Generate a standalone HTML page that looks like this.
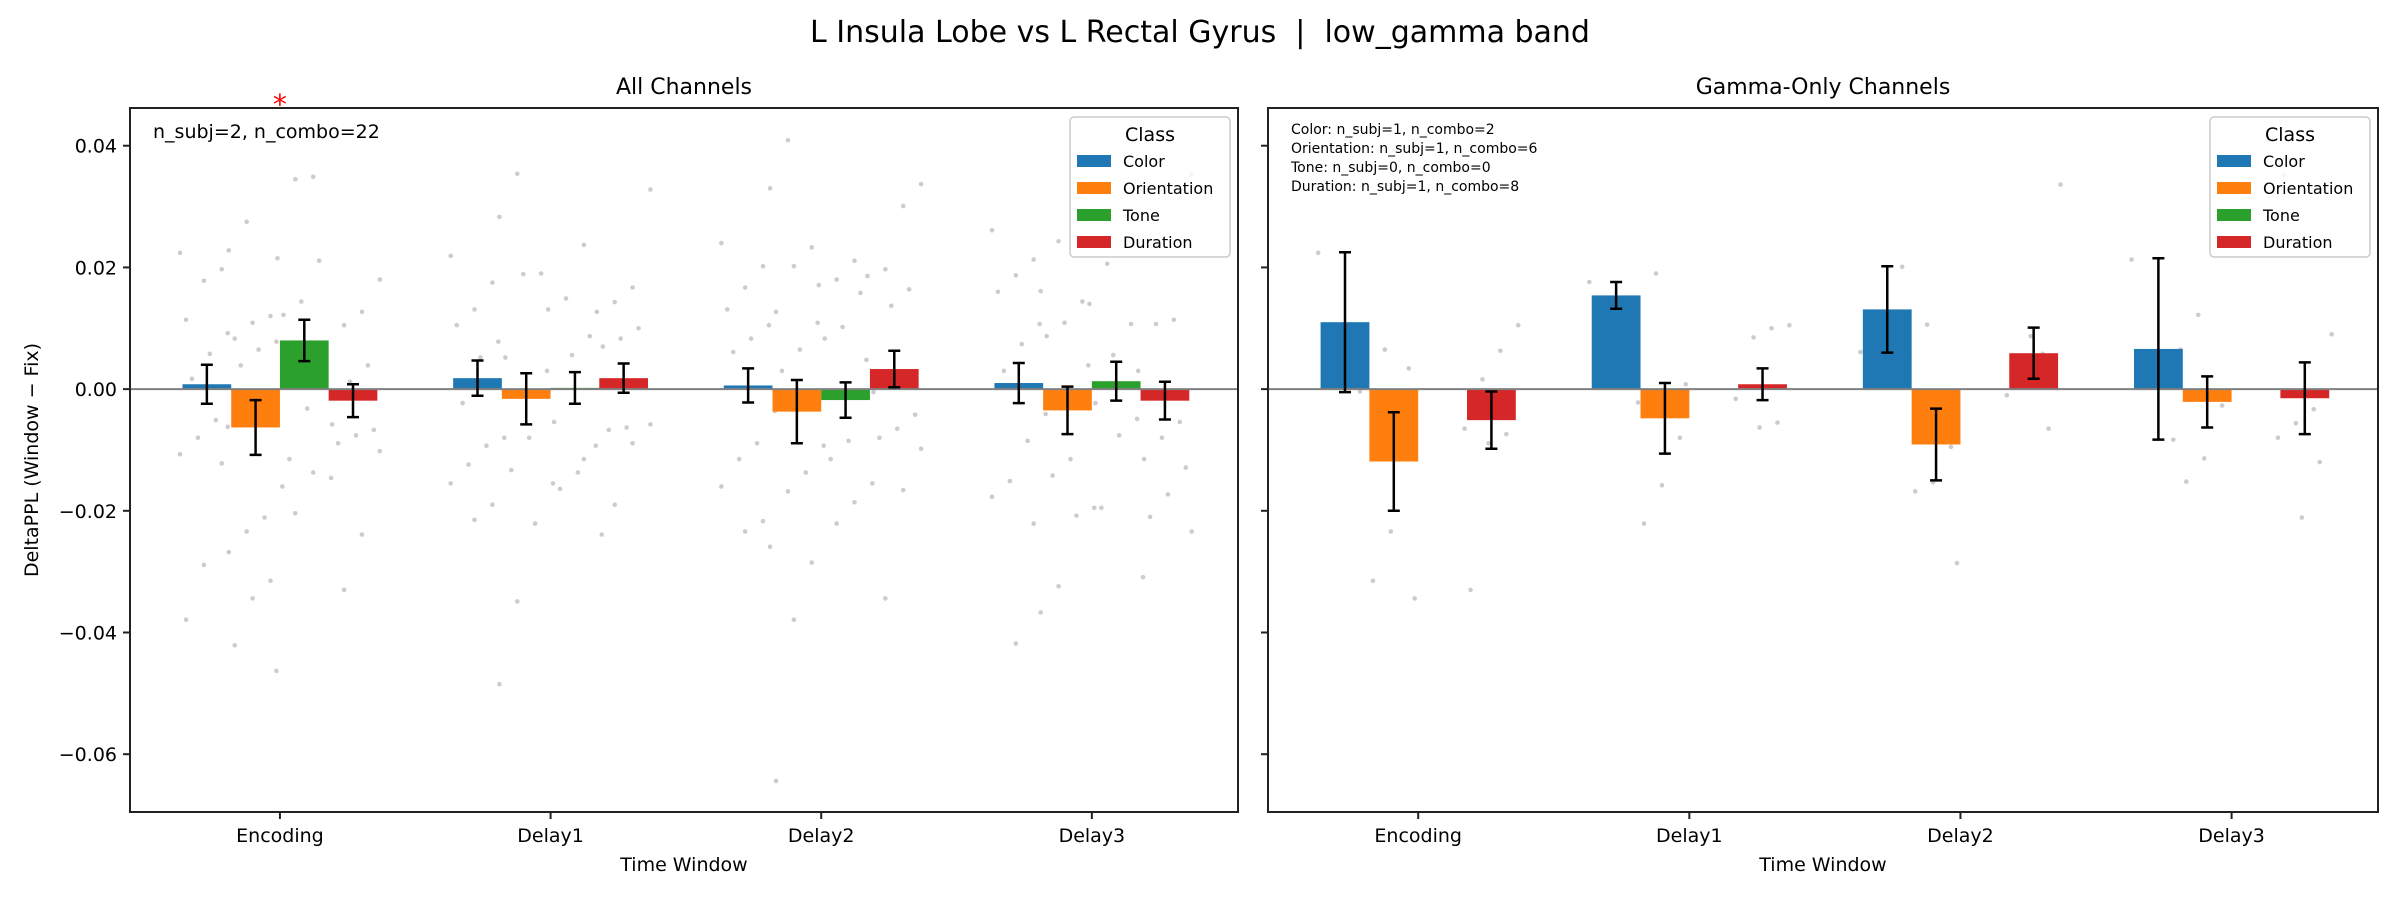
<!DOCTYPE html>
<html><head><meta charset="utf-8">
<style>
html,body{margin:0;padding:0;background:#fff;}
svg{display:block;font-family:"DejaVu Sans","Liberation Sans",sans-serif;}
</style></head>
<body>
<svg id="fig" width="2400" height="900" viewBox="0 0 2400 900" xmlns="http://www.w3.org/2000/svg">
<rect width="2400" height="900" fill="#fff"/>
<text x="1200" y="42" font-size="30" text-anchor="middle" style="white-space:pre">L Insula Lobe vs L Rectal Gyrus&#160;&#160;|&#160;&#160;low_gamma band</text>
<text transform="translate(38,460) rotate(-90)" font-size="19" text-anchor="middle">DeltaPPL (Window − Fix)</text>
</svg>
<script>
const categories=['Encoding','Delay1','Delay2','Delay3'];
const classes=['Color','Orientation','Tone','Duration'];
const classColors=['#1f77b4','#ff7f0e','#2ca02c','#d62728'];
const yTicks=[0.04,0.02,0.00,-0.02,-0.04,-0.06];
const yTickLabels=['0.04','0.02','0.00','−0.02','−0.04','−0.06'];

const allMeans=[[0.0008,-0.0063,0.0080,-0.0019],[0.0018,-0.0016,0.0002,0.0018],[0.0006,-0.0037,-0.0018,0.0033],[0.0010,-0.0035,0.0013,-0.0019]];
const allSem=[[0.0032,0.0045,0.0034,0.0027],[0.0029,0.0042,0.0026,0.0024],[0.0028,0.0052,0.0029,0.0030],[0.0033,0.0039,0.0032,0.0031]];
const allPoints=[
 [[.0224,.0197,.0178,.0114,.0092,.0058,.0017,-.0023,-.0051,-.008,-.0107,-.0122,-.0289,-.0379,-.0062],
  [.0275,.0228,.012,.0109,.0083,.0078,.0065,.0039,-.016,-.0211,-.0234,-.0268,-.0315,-.0344,-.0421,-.0463],
  [.0349,.0345,.0215,.0211,.0144,.0122,.0065,-.0032,-.0115,-.0146,-.0137,-.0204],
  [.018,.0127,.0105,.0061,.0039,.0012,-.0058,-.0067,-.0076,-.0089,-.0102,-.0239,-.033]],
 [[.0219,.0175,.0131,.0105,.0078,.0052,-.0023,-.008,-.0093,-.0124,-.0155,-.019,-.0215],
  [.0354,.0283,.019,.0189,.0052,.003,-.008,-.0133,-.0155,-.0221,-.0349,-.0485],
  [.0237,.0149,.0131,.0087,.0056,-.0054,-.0093,-.0137,-.0164,-.0239,-.0115],
  [.0328,.0167,.0143,.0127,.01,.0083,.007,.0012,-.0063,-.0067,-.0058,-.0089,-.019]],
 [[.024,.0202,.0167,.0131,.0105,.0083,.0061,-.0036,-.0089,-.0115,-.016,-.0217,-.0234],
  [.0409,.033,.0233,.0202,.0127,.0109,.0065,.003,-.0093,-.0137,-.0168,-.0259,-.0285,-.0379,-.0644],
  [.0211,.018,.0171,.0158,.0102,.0083,.0048,-.0085,-.0115,-.0155,-.0186,-.0221],
  [.0337,.0301,.0197,.0186,.0164,.0137,-.0005,-.0042,-.0065,-.008,-.0098,-.0166,-.0344]],
 [[.0261,.0213,.0187,.016,.0107,.0074,.003,-.0041,-.0085,-.0151,-.0177,-.0221,-.0418],
  [.0243,.0161,.0144,.0109,.0087,.0039,-.0115,-.0142,-.0195,-.0208,-.0324,-.0367],
  [.0285,.0206,.014,.0107,.0056,-.0023,-.0049,-.0076,-.0195,-.0309],
  [.0352,.0114,.0107,.003,-.0054,-.008,-.0115,-.0129,-.0173,-.021,-.0234]]
];
const gamMeans=[[0.0110,-0.0119,null,-0.0051],[0.0154,-0.0048,null,0.0008],[0.0131,-0.0091,null,0.0059],[0.0066,-0.0021,null,-0.0015]];
const gamSem=[[0.0115,0.0081,null,0.0047],[0.0022,0.0058,null,0.0026],[0.0071,0.0059,null,0.0042],[0.0149,0.0042,null,0.0059]];
const gamPoints=[
 [[.0224,-.0004],[.0065,.0076,.0034,-.0234,-.0315,-.0344],[],[.0105,.0063,.0016,-.0065,-.0074,-.0089,-.033]],
 [[.0176,.0131],[.019,-.0022,-.008,-.0158,-.0221,.0008],[],[.0105,.01,.0085,-.0016,-.0055,-.0063]],
 [[.0061,.0201],[.0106,.0049,-.0095,-.0153,-.0168,-.0286],[],[.0336,.0058,.0008,-.001,-.0065,.0087]],
 [[.0213,-.0083],[.0122,.0065,-.0027,-.0114,-.0152],[],[.009,-.0033,-.0056,-.008,-.012,-.0211,.0352]]
];
const allStars=[[0,0.0465]];
</script>
<script>
const NS='http://www.w3.org/2000/svg';
const svg=document.getElementById('fig');
function mk(tag,attrs,parent,text){const e=document.createElementNS(NS,tag);for(const k in attrs)e.setAttribute(k,attrs[k]);if(text!==undefined)e.textContent=text;(parent||svg).appendChild(e);return e;}
const TOP=108,BOT=812;
const yMin=-0.0695,yMax=0.0462;
function yS(v){return TOP+(yMax-v)/(yMax-yMin)*(BOT-TOP);}
const BW=0.18, xMin=-0.554, xMax=3.54;

function panel(L,R,title,means,sems,points,showYLabels,name){
  const g=mk('g',{});
  
  
  const xS=v=>L+(v-xMin)/(xMax-xMin)*(R-L);
  const t=mk('text',{x:(L+R)/2,y:94,'font-size':22,'text-anchor':'middle'},g,title);
  
  
  points.forEach((grp,ci)=>grp.forEach((arr,k)=>arr.forEach((v,i)=>{
    const off=(((i*7+k*3)%10)/9-0.5)*BW*1.1;
    const c=mk('circle',{cx:xS(ci+(k-1.5)*BW+off),cy:yS(v),r:2.3,fill:'#aaaaaa','fill-opacity':0.6},g);
    
    
  })));
  means.forEach((row,ci)=>row.forEach((m,k)=>{
    if(m===null)return;
    const x0=xS(ci+(k-1.5)*BW-BW/2), x1=xS(ci+(k-1.5)*BW+BW/2);
    const b=mk('rect',{x:x0,y:Math.min(yS(m),yS(0)),width:x1-x0,height:Math.abs(yS(m)-yS(0)),fill:classColors[k]},g);
    
    
  }));
  const z=mk('line',{x1:L,x2:R,y1:yS(0),y2:yS(0),stroke:'#808080','stroke-width':2},g);
  
  
  means.forEach((row,ci)=>row.forEach((m,k)=>{
    if(m===null)return;
    const s=sems[ci][k], cx=xS(ci+(k-1.5)*BW);
    const e=mk('path',{d:`M${cx},${yS(m+s)}V${yS(m-s)}M${cx-6},${yS(m+s)}H${cx+6}M${cx-6},${yS(m-s)}H${cx+6}`,stroke:'#000','stroke-width':2.5,fill:'none'},g);
    
    
  }));
  const f=mk('rect',{x:L,y:TOP,width:R-L,height:BOT-TOP,fill:'none',stroke:'#222','stroke-width':2},g);
  
  
  yTicks.forEach((v,i)=>{
    mk('line',{x1:L-7,x2:L,y1:yS(v),y2:yS(v),stroke:'#222','stroke-width':2},g);
    if(showYLabels){const tl=mk('text',{x:L-13,y:yS(v)+7,'font-size':19,'text-anchor':'end'},g,yTickLabels[i]);
      
      }
  });
  categories.forEach((c,i)=>{
    mk('line',{x1:xS(i),x2:xS(i),y1:BOT,y2:BOT+7,stroke:'#222','stroke-width':2},g);
    const tl=mk('text',{x:xS(i),y:842,'font-size':19,'text-anchor':'middle'},g,c);
    
    
  });
  const xt=mk('text',{x:(L+R)/2,y:871,'font-size':19,'text-anchor':'middle'},g,'Time Window');
  
  
  const lx=R-168, ly=117;
  const lg=mk('g',{},g);
  
  
  mk('rect',{x:lx,y:ly,width:160,height:140,rx:4,fill:'#fff','fill-opacity':0.8,stroke:'#ccc','stroke-width':1.5},lg);
  mk('text',{x:lx+80,y:ly+24,'font-size':19,'text-anchor':'middle'},lg,'Class');
  classes.forEach((c,k)=>{
    const yy=ly+44+k*27;
    const le=mk('g',{},lg);
    
    
    mk('rect',{x:lx+7,y:yy-6,width:34,height:12,fill:classColors[k]},le);
    mk('text',{x:lx+53,y:yy+6,'font-size':16},le,c);
  });
  return xS;
}
const xL=panel(130,1238,'All Channels',allMeans,allSem,allPoints,true,'panel-all-channels');
const xR=panel(1268,2378,'Gamma-Only Channels',gamMeans,gamSem,gamPoints,false,'panel-gamma-only');
allStars.forEach(s=>{
  const st=mk('text',{x:xL(s[0]),y:yS(s[1])+8,'font-size':28,fill:'#ff0000','text-anchor':'middle'},svg,'*');
  
  
});
const a1=mk('text',{x:153,y:138,'font-size':19},svg,'n_subj=2, n_combo=22');


['Color: n_subj=1, n_combo=2','Orientation: n_subj=1, n_combo=6','Tone: n_subj=0, n_combo=0','Duration: n_subj=1, n_combo=8'].forEach((s,i)=>{
  const a=mk('text',{x:1291,y:134+i*19,'font-size':14},svg,s);
  
  
});
</script>
</body></html>
